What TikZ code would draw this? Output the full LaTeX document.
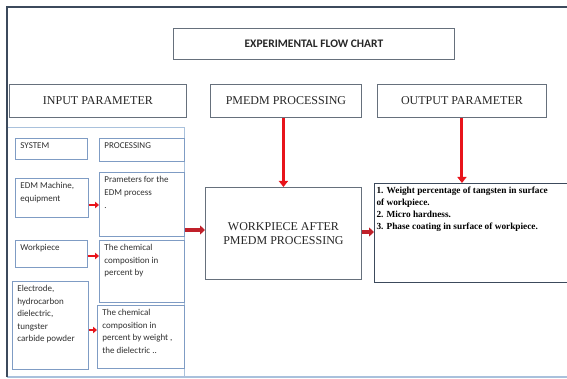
\documentclass[tikz,border=0pt]{standalone}
\usepackage{fontspec}
\setmainfont{Liberation Serif}
\newfontfamily\calib{Carlito}
\usetikzlibrary{arrows.meta}
\definecolor{framedark}{HTML}{3C4A5C}
\definecolor{hdrgray}{HTML}{66707C}
\definecolor{boxblue}{HTML}{7F9CC4}
\definecolor{lightblue}{HTML}{A9C1DC}
\definecolor{arrred}{HTML}{E8141B}
\definecolor{fatred}{HTML}{C0202A}
\definecolor{darktext}{HTML}{303030}
\newcommand\boxtxt[3]{\parbox[c][#2][t]{#1}{#3}}
\tikzset{
  hdr/.style={draw=hdrgray, line width=0.9pt, fill=white, inner sep=0pt, anchor=north west,
    font=\fontsize{12}{14}\selectfont, text=black!85, align=center},
  sbox/.style={draw=boxblue, line width=0.8pt, fill=white, inner xsep=5pt, inner ysep=4pt,
    anchor=north west, font=\calib\fontsize{9}{12.5}\selectfont, text=darktext},
  redarrow/.style={draw=arrred, line width=3pt, -{Triangle[length=6pt,width=9pt]}},
  smallarrow/.style={draw=arrred, line width=2.5pt, -{Triangle[length=4pt,width=6.5pt]}},
  fatarrow/.style={draw=fatred, line width=3.5pt, -{Triangle[length=5pt,width=9pt]}}
}
\begin{document}
\begin{tikzpicture}[x=1pt,y=-1pt]
\useasboundingbox (0,0) rectangle (567,379);
\clip (0,0) rectangle (567,379);
\fill[white] (0,0) rectangle (567,379);
% outer frame and left panel
\draw[lightblue, line width=1.2pt] (7,377) -- (567,377);
\draw[lightblue, line width=1pt] (7,128) -- (184,128) -- (184,377);
\draw[framedark, line width=1.6pt] (7,377) -- (7,7) -- (567,7);
% headers
\node[hdr, minimum width=281pt, minimum height=31pt, font=\calib\bfseries\fontsize{11.5}{13}\selectfont] (title) at (173,28) {EXPERIMENTAL FLOW CHART};
\node[hdr, minimum width=177pt, minimum height=33pt] (inhdr) at (9,84) {INPUT PARAMETER};
\node[hdr, minimum width=151pt, minimum height=33pt] (pmhdr) at (210,84) {PMEDM PROCESSING};
\node[hdr, minimum width=169pt, minimum height=33pt] (outhdr) at (377,84) {OUTPUT PARAMETER};
% left column boxes
\node[sbox] (sys) at (15,138) {\boxtxt{62pt}{13pt}{SYSTEM}};
\node[sbox] (proc) at (99,138) {\boxtxt{75pt}{15pt}{PROCESSING}};
\node[sbox] (edm) at (15,178) {\boxtxt{63pt}{31pt}{EDM Machine,\\equipment}};
\node[sbox] (par) at (99,172) {\boxtxt{75pt}{56pt}{Prameters for the\\EDM process\\[1pt].}};
\node[sbox] (wps) at (15,240) {\boxtxt{62pt}{19pt}{Workpiece}};
\node[sbox] (chem1) at (99,240) {\boxtxt{75pt}{54pt}{The chemical\\composition in\\percent by}};
\node[sbox] (elec) at (12,281) {\boxtxt{66pt}{80pt}{Electrode,\\hydrocarbon\\dielectric,\\tungster\\carbide powder}};
\node[sbox] (chem2) at (97,305) {\boxtxt{77pt}{55pt}{The chemical\\composition in\\percent by weight ,\\the dielectric ..}};
% centre and output boxes
\node[hdr, minimum width=156pt, minimum height=92pt] (work) at (205,187) {WORKPIECE AFTER\\PMEDM PROCESSING};
\node[draw=framedark, line width=1pt, fill=white, anchor=north west, inner xsep=2pt, inner ysep=3.5pt,
  font=\bfseries\fontsize{9.3}{12}\selectfont] (outbox) at (374,183)
  {\boxtxt{191pt}{92pt}{\parbox[t]{180pt}{\raggedright 1. Weight percentage of tangsten in surface of workpiece.\\2. Micro hardness.\\3. Phase coating in surface of workpiece.}}};
% connectors
\draw[redarrow] (pmhdr.south -| work.north) -- (work.north);
\draw[redarrow] (outhdr.south) -- (outhdr.south |- outbox.north);
\draw[smallarrow] (edm.east |- 0,205) -- (par.west |- 0,205);
\draw[smallarrow] (wps.east |- 0,256) -- (chem1.west |- 0,256);
\draw[smallarrow] (elec.east |- 0,330) -- (chem2.west |- 0,330);
\draw[fatarrow] (par.east |- 0,230) -- (work.west |- 0,230);
\draw[fatarrow] (work.east |- 0,232) -- (outbox.west |- 0,232);
\end{tikzpicture}
\end{document}
